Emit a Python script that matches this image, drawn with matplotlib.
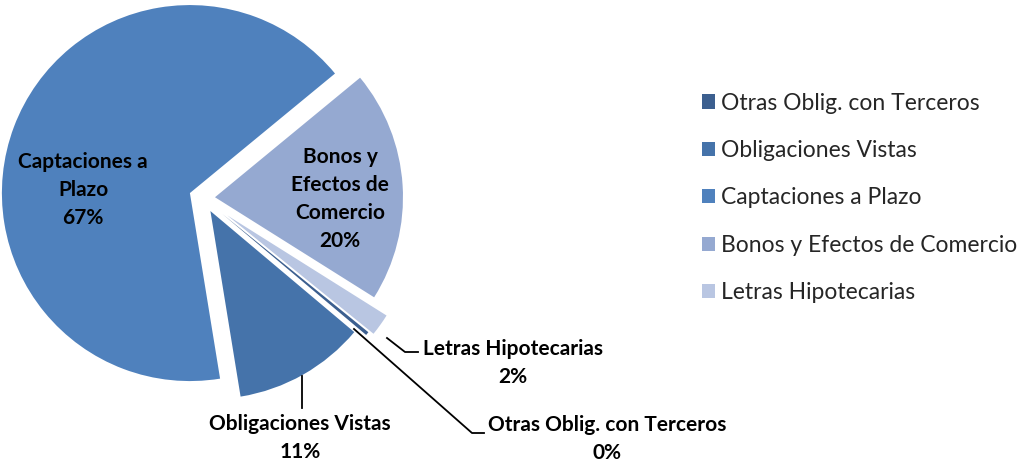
import matplotlib
matplotlib.use("Agg")
import matplotlib.pyplot as plt

# data (legend order = drawing order, clockwise)
categories = [
    "Otras Oblig. con Terceros",
    "Obligaciones Vistas",
    "Captaciones a Plazo",
    "Bonos y Efectos de Comercio",
    "Letras Hipotecarias",
]
shares = [0.3, 11.3, 66.6, 19.9, 1.9]
pct_labels = ["0%", "11%", "67%", "20%", "2%"]
colors = ["#3C5F8F", "#4573AA", "#4F81BD", "#95A9D1", "#B9C6E2"]

# layout in pixel units (image coords, y down)
W, H = 1022, 466
CENTER = (203, 198)
RADIUS = 188
EXPLODE = [25, 15, 14, 12, 30]
FONT = "Lato"


def iy(y):
    return H - y


fig = plt.figure(figsize=(W / 100, H / 100), dpi=100)
ax = fig.add_axes([0, 0, 1, 1])

wedges, _ = ax.pie(
    shares,
    colors=colors,
    explode=EXPLODE,
    center=(CENTER[0], iy(CENTER[1])),
    radius=RADIUS,
    startangle=-39,
    counterclock=False,
    wedgeprops=dict(linewidth=0),
    frame=True,
)
ax.set_xlim(0, W)
ax.set_ylim(0, H)
ax.set_aspect("equal")
ax.axis("off")

lab = dict(ha="center", va="center", fontsize=15, fontweight="bold",
           family=FONT, linespacing=1.52, color="black")

# inside labels
ax.text(83, iy(190), "Captaciones a\nPlazo\n" + pct_labels[2], **lab)
ax.text(340, iy(199), "Bonos y\nEfectos de\nComercio\n" + pct_labels[3], **lab)

# outside labels with leader lines
ax.text(300, iy(438), "Obligaciones Vistas\n" + pct_labels[1], **lab)
ax.plot([302, 302], [iy(376), iy(408)], color="black", lw=1.3)

ax.text(513, iy(363), "Letras Hipotecarias\n" + pct_labels[4], **lab)
ax.plot([387, 405, 418], [iy(338), iy(352), iy(352)], color="black", lw=1.3)

ax.text(607, iy(439), "Otras Oblig. con Terceros\n" + pct_labels[0], **lab)
ax.plot([354, 472, 484], [iy(329), iy(433), iy(433)], color="black", lw=1.3)

leg = ax.legend(
    wedges, categories,
    loc="upper left",
    bbox_to_anchor=(681, iy(72)),
    bbox_transform=ax.transData,
    frameon=False,
    prop=dict(family=FONT, size=16.5),
    handlelength=0.57, handleheight=0.57, handletextpad=0.28,
    labelspacing=1.15,
)
for t in leg.get_texts():
    t.set_color("#262626")

fig.savefig("out.png", dpi=100, facecolor="white")
